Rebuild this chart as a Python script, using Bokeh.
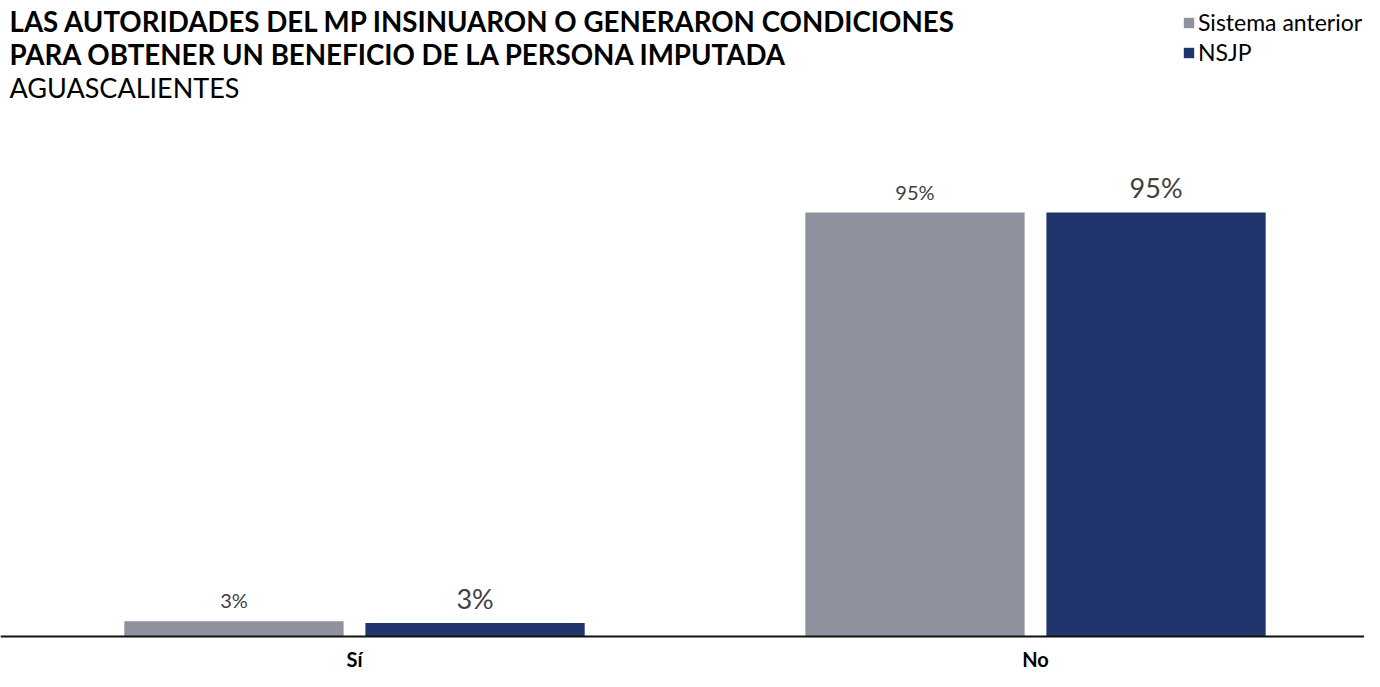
from bokeh.plotting import figure
from bokeh.models import ColumnDataSource, Range1d, Span, Label, Legend, LegendItem
from bokeh.transform import dodge
from bokeh.core.properties import value
from bokeh.embed import file_html
from bokeh.resources import INLINE

# ---- data ----
categories = ["Sí", "No"]
series_names = ["Sistema anterior", "NSJP"]
sistema_anterior = [3.4, 95.0]
nsjp = [3.0, 95.0]
title_lines = [
    "LAS AUTORIDADES DEL MP INSINUARON O GENERARON CONDICIONES",
    "PARA OBTENER UN BENEFICIO DE LA PERSONA IMPUTADA",
]
subtitle = "AGUASCALIENTES"

GRAY = "#8e929e"
NAVY = "#1f356b"
TXT = "#404040"
FONT = "Lato"

xs = [i + 0.5 for i in range(len(categories))]
src = ColumnDataSource(dict(
    x=xs,
    cat=categories,
    a=sistema_anterior,
    b=nsjp,
    la=[f"{v:.0f}%" for v in sistema_anterior],
    lb=[f"{v:.0f}%" for v in nsjp],
    zero=[0] * len(categories),
))

W, H = 1364, 671
BASE = 636          # screen row of the baseline
PX_PER = (BASE - 212) / 95.0
UNIT = 681.0
X0 = 0.5 - 354 / UNIT

p = figure(width=W, height=H, output_backend="svg", toolbar_location=None,
           x_range=Range1d(X0, X0 + W / UNIT),
           y_range=Range1d(-(H - BASE) / PX_PER, BASE / PX_PER),
           min_border=0)
p.xaxis.visible = False
p.yaxis.visible = False
p.grid.visible = False
p.outline_line_color = None
p.background_fill_color = "white"
p.border_fill_color = "white"

off = 0.177
bw = 0.322
ra = p.vbar(x=dodge("x", -off), top="a", width=bw, source=src, fill_color=GRAY, line_color=None)
rb = p.vbar(x=dodge("x", off), top="b", width=bw, source=src, fill_color=NAVY, line_color=None)

p.text(x=dodge("x", -off), y="a", text="la", source=src, text_align="center",
       text_baseline="middle", y_offset=-21, text_font=value(FONT),
       text_font_size="20px", text_color=TXT)
p.text(x=dodge("x", off), y="b", text="lb", source=src, text_align="center",
       text_baseline="middle", y_offset=-25, text_font=value(FONT),
       text_font_size="27px", text_color=TXT)

p.add_layout(Span(location=0, dimension="width", line_color="#111111", line_width=2))

p.text(x="x", y="zero", text="cat", source=src, text_align="center",
       text_baseline="middle", y_offset=22, text_font=value(FONT),
       text_font_size="20px", text_font_style="bold", text_color="black")

# titles
for txt, mid, style, size in [(title_lines[0], 21, "bold", "27.7px"),
                              (title_lines[1], 54, "bold", "27.7px"),
                              (subtitle, 87, "normal", "27px")]:
    p.add_layout(Label(x=9, y=H - mid, x_units="screen", y_units="screen", text=txt,
                       text_font=FONT, text_font_size=size, text_font_style=style,
                       text_color="black", text_baseline="middle"))

legend = Legend(items=[LegendItem(label=series_names[0], renderers=[ra]),
                       LegendItem(label=series_names[1], renderers=[rb])],
                location=(1182, H - 66), orientation="vertical",
                glyph_width=13, glyph_height=13, label_standoff=3,
                label_height=27, spacing=2, padding=0, margin=0,
                label_text_font=FONT, label_text_font_size="23px", label_text_color="black",
                border_line_color=None, background_fill_alpha=0)
p.add_layout(legend)

open("out.html", "w").write(file_html(p, INLINE))
